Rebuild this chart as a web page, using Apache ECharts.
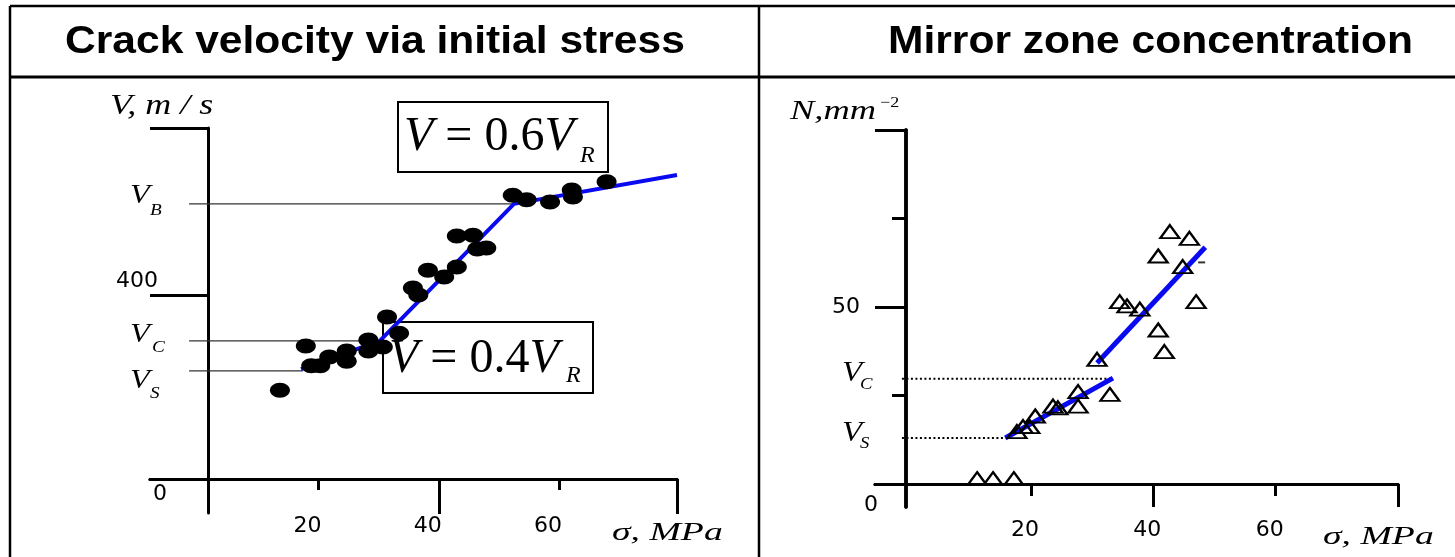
<!DOCTYPE html>
<html><head><meta charset="utf-8">
<script src="https://cdn.jsdelivr.net/npm/echarts@6/dist/echarts.min.js"></script>
<style>html,body{margin:0;padding:0;background:#fff}#c{width:1455px;height:557px}</style>
</head><body><div id="c"></div>
<script>
// ---------- data: left panel (crack velocity, m/s vs initial stress, MPa) ----------
const leftStress   = [13.6, 17.9, 18.8, 20.3, 21.8, 24.7, 24.7, 28.3, 28.3, 30.7, 31.4, 33.4, 35.7, 36.6, 38.2, 40.9, 43.0, 43.0, 45.7, 46.4, 47.9, 52.3, 54.6, 58.5, 62.1, 62.3, 67.9];
const leftVelocity = [193, 289, 246, 246, 265, 278, 256, 302, 278, 287, 352, 317, 415, 400, 454, 439, 461, 528, 530, 500, 502, 617, 607, 602, 628, 613, 646];
const fitStress    = [17.1, 30.2, 52.5, 79.6];
const fitVelocity  = [239, 300, 598, 661];
const velLevelNames  = ['B', 'C', 'S'];
const velLevelValues = [598, 300, 235];
const velLevelEnds   = [52.3, 30.2, 17.4];
const leftXTicksMajor = [40, 79.6];
const leftXTicksMinor = [20, 60];
const xTickLabels     = [20, 40, 60];
const leftYTicks      = [400, 762.9];
const leftYLabels     = [0, 400];

// ---------- data: right panel (mirror zone concentration, mm^-2 vs stress) ----------
const rightStress = [11.2, 13.8, 17.2, 17.7, 18.7, 19.8, 20.7, 23.6, 24.4, 27.7, 27.7, 32.9, 30.8, 34.5, 35.7, 37.8, 40.8, 41.8, 40.8, 42.7, 45.9, 44.8, 47.0];
const rightConc   = [1.5, 1.5, 1.5, 14.8, 16.2, 16.2, 19.2, 22.0, 21.5, 26.1, 22.0, 25.3, 35.2, 51.5, 50.3, 49.4, 43.5, 37.4, 64.4, 71.3, 69.4, 61.4, 51.5];
const dashStress  = [47.9];
const dashConc    = [62.6];
const fit1Stress  = [15.8, 33.4];
const fit1Conc    = [13.0, 29.9];
const fit2Stress  = [30.8, 48.5];
const fit2Conc    = [34.2, 66.9];
const concLevelNames  = ['C', 'S'];
const concLevelValues = [29.7, 13.0];
const concLevelEnds   = [33.4, 15.8];
const rightXTicksMajor = [40, 79.99];
const rightXTicksMinor = [20, 60];
const rightYTicksMajor = [50, 100];
const rightYTicksMinor = [25, 75];
const rightYLabels     = [0, 50];

// ---------- helpers ----------
const SANS = 'DejaVu Sans';
const SERIF = '"Liberation Serif"';
const BOLD = '"Liberation Sans"';
const LABEL_SIZE = 22;
const pairs = (xs, ys) => xs.map((x, i) => [x, ys[i]]);
const ELLIPSE = 'path://M0,-1C0.55,-1 1,-0.55 1,0C1,0.55 0.55,1 0,1C-0.55,1 -1,0.55 -1,0C-1,-0.55 -0.55,-1 0,-1Z';
const blk = (w) => ({ color: '#000', width: w });

function txt(x, y, text, size, italic, sx, extra) {
  return Object.assign({
    type: 'text', x: x, y: y, scaleX: sx || 1, z: 10,
    style: { text: text, font: (italic ? 'italic ' : '') + size + 'px ' + SERIF,
             fill: '#000', align: 'left', verticalAlign: 'middle' }
  }, extra || {});
}
function boxText(x, y, text) {
  return {
    type: 'text', x: x, y: y, z: 10,
    style: { text: text, fontFamily: 'Liberation Serif', fontSize: 48, font: '48px ' + SERIF,
             fill: '#000', align: 'left', verticalAlign: 'middle',
             rich: { i: { fontStyle: 'italic', fontFamily: 'Liberation Serif', fontSize: 48 } } }
  };
}
function rect(x, y, w, h) {
  return { type: 'rect', shape: { x: x, y: y, width: w, height: h }, z: 1,
           style: { fill: 'none', stroke: '#000', lineWidth: 2 } };
}
function ln(x1, y1, x2, y2, w) {
  return { type: 'line', shape: { x1: x1, y1: y1, x2: x2, y2: y2 }, z: 1,
           style: { stroke: '#000', lineWidth: w } };
}

function xAxisDef(grid, min, max, ticks, len, labels, pad, margin, onZeroIdx) {
  return {
    gridIndex: grid, type: 'value', min: min, max: max, position: 'bottom',
    axisLine: Object.assign({ show: true, onZero: true, lineStyle: blk(3) }, onZeroIdx != null ? { onZeroAxisIndex: onZeroIdx } : {}),
    axisTick: { show: true, customValues: ticks, length: len, lineStyle: blk(3) },
    axisLabel: labels ? { show: true, customValues: labels, margin: margin, padding: [0, pad, 0, 0],
                          fontFamily: SANS, fontSize: LABEL_SIZE, color: '#000' } : { show: false },
    splitLine: { show: false }
  };
}

const leftLevelSeries = velLevelValues.map((v, i) => ({
  name: 'V' + velLevelNames[i], type: 'line', xAxisIndex: 0, yAxisIndex: 0, symbol: 'none', silent: true, z: 1,
  data: pairs([-1.5, velLevelEnds[i]], [v, v]), lineStyle: { color: '#333', width: 1.2 }
}));
const rightLevelSeries = concLevelValues.map((v, i) => ({
  name: 'N' + concLevelNames[i], type: 'line', xAxisIndex: 2, yAxisIndex: 1, symbol: 'none', silent: true, z: 1,
  data: pairs([-1.1, concLevelEnds[i]], [v, v]), lineStyle: { color: '#000', width: 2, type: [2, 2.5] }
}));

const chart = echarts.init(document.getElementById('c'), null, { width: 1455, height: 557 });
chart.setOption({
  animation: false,
  backgroundColor: '#fff',
  grid: [
    { left: 150, top: 128, width: 527, height: 385, outerBoundsMode: 'none', containLabel: false },
    { left: 875, top: 130, width: 523, height: 377, outerBoundsMode: 'none', containLabel: false }
  ],
  xAxis: [
    xAxisDef(0, -8, 79.6, leftXTicksMajor, 35, xTickLabels, 22, 2),
    xAxisDef(0, -8, 79.6, leftXTicksMinor, 11, null, 0, 0, 0),
    xAxisDef(1, -5.5, 80, rightXTicksMajor, 23, xTickLabels, 12, 12),
    xAxisDef(1, -5.5, 80, rightXTicksMinor, 12, null, 0, 0)
  ],
  yAxis: [
    { gridIndex: 0, type: 'value', min: -74, max: 763, position: 'left', offset: -58,
      axisLine: { show: true, onZero: false, lineStyle: blk(3) },
      axisTick: { show: true, customValues: leftYTicks, length: 58, lineStyle: blk(3) },
      axisLabel: { show: true, customValues: leftYLabels, margin: 41,
        formatter: v => v === 0 ? '{a|' + v + '}' : '{b|' + v + '}',
        rich: { a: { padding: [31, 0, 0, 0], fontFamily: SANS, fontSize: LABEL_SIZE, color: '#000' },
                b: { padding: [0, 9, 28, 0], fontFamily: SANS, fontSize: LABEL_SIZE, color: '#000' } } },
      splitLine: { show: false } },
    { gridIndex: 1, type: 'value', min: -6.5, max: 100, position: 'left', offset: -31,
      axisLine: { show: true, onZero: false, lineStyle: blk(3.5) },
      axisTick: { show: true, customValues: rightYTicksMajor, length: 31, lineStyle: blk(3) },
      axisLabel: { show: true, customValues: rightYLabels, margin: 28,
        formatter: v => v === 0 ? '{a|' + v + '}' : '{b|' + v + '}',
        rich: { a: { padding: [43, 0, 0, 0], fontFamily: SANS, fontSize: LABEL_SIZE, color: '#000' },
                b: { padding: [0, 18, 0, 0], fontFamily: SANS, fontSize: LABEL_SIZE, color: '#000' } } },
      splitLine: { show: false } },
    { gridIndex: 1, type: 'value', min: -6.5, max: 100, position: 'left', offset: -31,
      axisLine: { show: true, onZero: false, lineStyle: blk(3.5) },
      axisTick: { show: true, customValues: rightYTicksMinor, length: 14, lineStyle: blk(3) },
      axisLabel: { show: false }, splitLine: { show: false } }
  ],
  series: [
    ...leftLevelSeries,
    { name: 'fit V', type: 'line', xAxisIndex: 0, yAxisIndex: 0, symbol: 'none', z: 2,
      data: pairs(fitStress, fitVelocity), lineStyle: { color: '#0a0af0', width: 4 } },
    { name: 'V data', type: 'scatter', xAxisIndex: 0, yAxisIndex: 0, z: 3,
      symbol: ELLIPSE, symbolSize: [20, 15], itemStyle: { color: '#000', opacity: 1 },
      data: pairs(leftStress, leftVelocity) },
    ...rightLevelSeries,
    { name: 'fit N1', type: 'line', xAxisIndex: 2, yAxisIndex: 1, symbol: 'none', z: 2,
      data: pairs(fit1Stress, fit1Conc), lineStyle: { color: '#0a0af0', width: 5 } },
    { name: 'fit N2', type: 'line', xAxisIndex: 2, yAxisIndex: 1, symbol: 'none', z: 2,
      data: pairs(fit2Stress, fit2Conc), lineStyle: { color: '#0a0af0', width: 5 } },
    { name: 'N data', type: 'scatter', xAxisIndex: 2, yAxisIndex: 1, z: 3,
      symbol: 'triangle', symbolSize: [19, 13],
      itemStyle: { color: 'rgba(0,0,0,0)', borderColor: '#000', borderWidth: 2.2, opacity: 1 },
      data: pairs(rightStress, rightConc) },
    { name: 'N mark', type: 'scatter', xAxisIndex: 2, yAxisIndex: 1, z: 3,
      symbol: 'rect', symbolSize: [7, 2], itemStyle: { color: '#000' },
      data: pairs(dashStress, dashConc) }
  ],
  graphic: [
    // frame
    ln(10, 6, 1455, 6, 2.5), ln(10, 6, 10, 557, 2.5), ln(10, 77, 1455, 77, 3), ln(759, 6, 759, 557, 2.5),
    // titles
    { type: 'text', x: 65, y: 43, scaleX: 1.12, z: 10,
      style: { text: 'Crack velocity via initial stress', font: 'bold 38px ' + BOLD, fill: '#000', align: 'left', verticalAlign: 'middle' } },
    { type: 'text', x: 888, y: 43, scaleX: 1.12, z: 10,
      style: { text: 'Mirror zone concentration', font: 'bold 38px ' + BOLD, fill: '#000', align: 'left', verticalAlign: 'middle' } },
    // left axis names
    txt(110, 106, 'V, m / s', 29, true, 1.24),
    txt(612, 533, 'σ, MPa', 26, true, 1.45),
    // left level labels
    txt(130, 196, 'V', 27, true, 1.2), txt(150, 211, velLevelNames[0], 16, true, 1.2),
    txt(130, 335, 'V', 27, true, 1.2), txt(152, 348, velLevelNames[1], 16, true, 1.2),
    txt(130, 381, 'V', 27, true, 1.2), txt(150, 394, velLevelNames[2], 16, true, 1.2),
    // boxes
    rect(398, 102, 210, 70), boxText(404, 137, '{i|V} = 0.6{i|V}'), txt(580, 156, 'R', 24, true, 1),
    rect(383, 322, 210, 71), boxText(389, 359, '{i|V} = 0.4{i|V}'), txt(566, 376, 'R', 24, true, 1),
    // right axis names
    txt(790, 112, 'N,mm', 27, true, 1.35), txt(880, 103, '−2', 15, false, 1.2),
    txt(1323, 537, 'σ, MPa', 26, true, 1.45),
    // right level labels
    txt(842, 373, 'V', 30, true, 1.1), txt(860, 385, concLevelNames[0], 17, true, 1.1),
    txt(842, 433, 'V', 30, true, 1.1), txt(860, 444, concLevelNames[1], 17, true, 1.1)
  ]
});
</script></body></html>
